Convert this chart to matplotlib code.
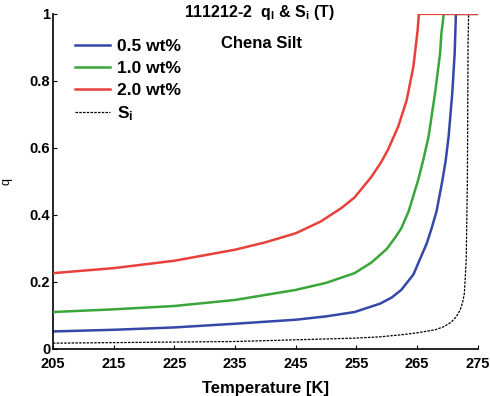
import matplotlib.pyplot as plt
import numpy as np

plt.rcParams['font.family'] = ['Liberation Sans', 'DejaVu Sans']
plt.rcParams['mathtext.fontset'] = 'custom'
plt.rcParams['mathtext.rm'] = 'Liberation Sans'
plt.rcParams['mathtext.it'] = 'Liberation Sans'
plt.rcParams['mathtext.bf'] = 'Liberation Sans:bold'

# curves (temperature in K, q)
T_05 = [205, 215, 225, 235, 245, 250, 254.7, 258.9, 260.8, 262.4, 264.4, 265.2, 266.6, 267.4, 268.2,
        269.1, 269.7, 270.2, 270.8, 271.2, 271.4, 275]
q_05 = [0.052, 0.057, 0.064, 0.075, 0.087, 0.097, 0.110, 0.135, 0.153, 0.176, 0.222, 0.256, 0.315, 0.36, 0.41,
        0.495, 0.56, 0.634, 0.763, 0.883, 1.0, 1.0]

T_10 = [205, 215, 225, 235, 245, 250, 254.7, 257.5, 260, 261.5, 262.4, 263.6, 265.2, 266.1, 266.9, 268.0,
        268.8, 269.0, 269.4, 275]
q_10 = [0.110, 0.118, 0.128, 0.146, 0.176, 0.197, 0.226, 0.258, 0.298, 0.335, 0.36, 0.41, 0.505, 0.57, 0.634, 0.768,
        0.883, 0.94, 1.0, 1.0]

T_20 = [205, 215, 225, 235, 240, 245, 249.1, 252.5, 254.7, 257.5, 259, 260.2, 261.9, 263.3, 264.4, 265.1, 265.3, 275]
q_20 = [0.226, 0.241, 0.263, 0.296, 0.318, 0.345, 0.380, 0.420, 0.452, 0.514, 0.555, 0.594, 0.664, 0.743, 0.843,
        0.952, 1.0, 1.0]

T_si = [205, 235, 254.7, 258.9, 262.4, 265, 268.0, 269.5, 270.7, 271.5, 272.1, 272.5, 272.8, 273.1, 273.3,
        273.4, 273.5]
q_si = [0.017, 0.022, 0.032, 0.036, 0.042, 0.048, 0.057, 0.067, 0.081, 0.097, 0.116, 0.138, 0.166, 0.266, 0.514,
        0.91, 1.0]

labels = ['0.5 wt%', '1.0 wt%', '2.0 wt%', r'S$_\mathregular{i}$']
xticks = [205, 215, 225, 235, 245, 255, 265, 275]
yticks = [0, 0.2, 0.4, 0.6, 0.8, 1]

fig = plt.figure(figsize=(4.9, 3.96), dpi=100)
ax = fig.add_axes([0.108, 0.119, 0.867, 0.846])

ax.plot(T_si, q_si, color='black', lw=0.9, ls=(0, (2, 1)), label=labels[3], zorder=1)
ax.plot(T_05, q_05, color='#3548a8', lw=1.8, label=labels[0], zorder=2)
ax.plot(T_10, q_10, color='#3aa53a', lw=1.8, label=labels[1], zorder=3)
ax.plot(T_20, q_20, color='#e8403a', lw=1.8, label=labels[2], zorder=4)

ax.set_xlim(205, 275)
ax.set_ylim(0, 1)
ax.set_xticks(xticks)
ax.set_yticks(yticks)
ax.set_yticklabels(['0', '0.2', '0.4', '0.6', '0.8', '1'])
ax.tick_params(direction='in', length=3, labelsize=10.5)
ax.tick_params(axis='x', pad=6)
ax.tick_params(axis='y', pad=2)
for t in ax.get_xticklabels() + ax.get_yticklabels():
    t.set_fontweight('bold')
ax.spines['top'].set_visible(False)
ax.spines['right'].set_visible(False)
ax.spines['left'].set_linewidth(1.2)
ax.spines['bottom'].set_linewidth(1.2)

ax.set_xlabel('Temperature [K]', fontsize=12, fontweight='bold')
ax.xaxis.set_label_coords(0.5, -0.095)
ax.set_ylabel('q', fontsize=9)
ax.yaxis.set_label_coords(-0.095, 0.5)

ax.text(0.485, 1.003, r'111212-2  q$_\mathregular{l}$ & S$_\mathregular{i}$ (T)', transform=ax.transAxes,
        ha='center', va='center', fontsize=11.5, fontweight='bold')
ax.text(0.49, 0.913, 'Chena Silt', transform=ax.transAxes,
        ha='center', va='center', fontsize=12, fontweight='bold')

h, l = ax.get_legend_handles_labels()
order = [1, 2, 3, 0]
leg = ax.legend([h[i] for i in order], [l[i] for i in order], loc='upper left',
                bbox_to_anchor=(0.052, 0.925), frameon=False,
                prop={'weight': 'bold', 'size': 12.5},
                handlelength=2.0, handletextpad=0.4, labelspacing=0.38,
                borderpad=0, borderaxespad=0)

plt.savefig('out.png', dpi=100)
